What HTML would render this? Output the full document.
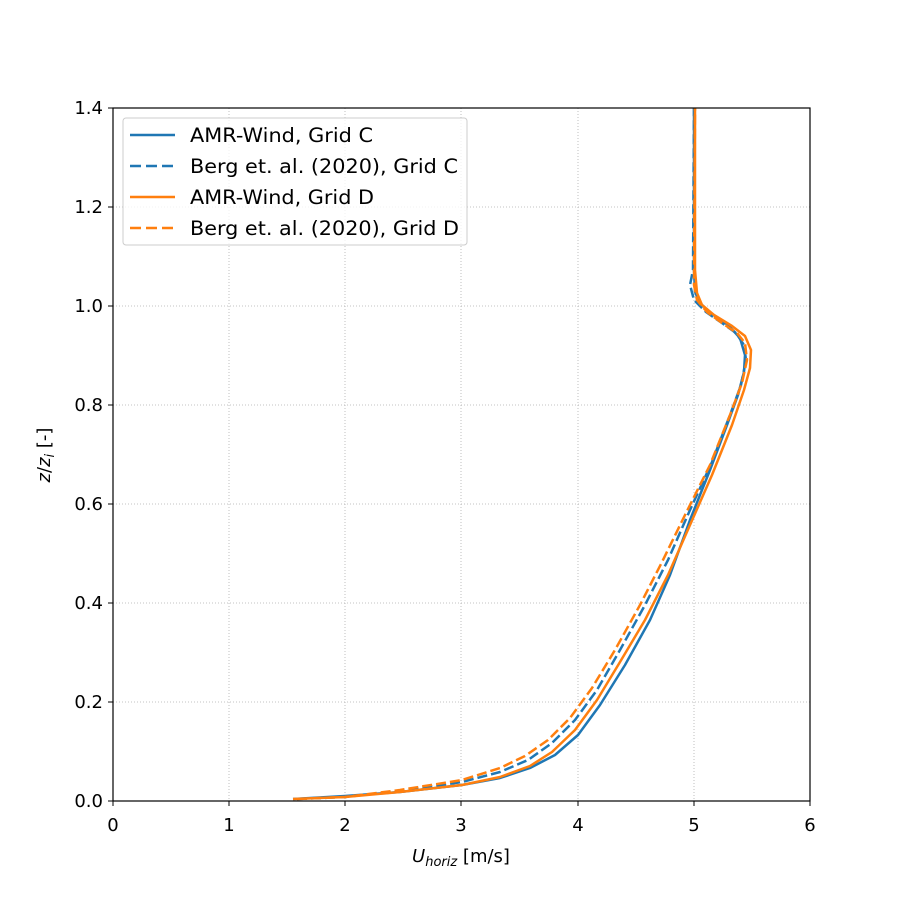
<!DOCTYPE html>
<html><head><style>body{margin:0;background:#fff}svg{display:block;font-family:"DejaVu Sans","Liberation Sans",sans-serif}</style></head>
<body>
<svg width="900" height="900" xmlns="http://www.w3.org/2000/svg">
<rect width="900" height="900" fill="#fff"/>
<g stroke="#b0b0b0" stroke-width="0.8" stroke-dasharray="1,2">
<line x1="229" y1="108" x2="229" y2="801"/><line x1="345" y1="108" x2="345" y2="801"/><line x1="461" y1="108" x2="461" y2="801"/><line x1="578" y1="108" x2="578" y2="801"/><line x1="694" y1="108" x2="694" y2="801"/>
<line x1="113" y1="702" x2="810" y2="702"/><line x1="113" y1="603" x2="810" y2="603"/><line x1="113" y1="504" x2="810" y2="504"/><line x1="113" y1="405" x2="810" y2="405"/><line x1="113" y1="306" x2="810" y2="306"/><line x1="113" y1="207" x2="810" y2="207"/>
</g>
<g fill="none" stroke-width="2.5" stroke-linejoin="round">
<polyline stroke="#1f77b4" points="293,799 345,796 400,792 462,785 500,778 530,768 555,755 578,735 600,705 625,665 650,620 670,575 690,520 710,470 727,425 738,395 744,372 745,355 740,338 728,325 712,314 700,303 695,292 694,270 694,108"/>
<polyline stroke="#1f77b4" stroke-dasharray="10,4" points="297,799 345,797 400,791 462,782 500,772 528,760 552,743 575,720 597,690 620,650 645,605 668,560 690,510 712,462 730,415 741,385 746,360 744,345 736,333 722,323 706,312 694,300 690,285 693,270 694,108"/>
<polyline stroke="#ff7f0e" points="293,799 345,797 400,792 462,785 500,777 530,766 552,752 575,730 597,700 620,662 645,620 668,575 690,525 712,475 732,425 744,390 750,368 751,350 745,336 732,326 714,315 702,305 697,293 695,270 695,108"/>
<polyline stroke="#ff7f0e" stroke-dasharray="10,4" points="297,799 345,797 400,790 462,780 500,768 525,756 548,740 570,718 592,688 615,650 640,605 662,562 685,515 710,465 730,415 742,383 747,360 745,343 737,333 722,323 707,312 697,300 694,285 695,108"/>
</g>
<rect x="113" y="108" width="697" height="693" fill="none" stroke="#000" stroke-width="1.2"/>
<g stroke="#000" stroke-width="1">
<line x1="113" y1="801" x2="113" y2="806"/><line x1="229" y1="801" x2="229" y2="806"/><line x1="345" y1="801" x2="345" y2="806"/><line x1="461" y1="801" x2="461" y2="806"/><line x1="578" y1="801" x2="578" y2="806"/><line x1="694" y1="801" x2="694" y2="806"/><line x1="810" y1="801" x2="810" y2="806"/>
<line x1="108" y1="801" x2="113" y2="801"/><line x1="108" y1="702" x2="113" y2="702"/><line x1="108" y1="603" x2="113" y2="603"/><line x1="108" y1="504" x2="113" y2="504"/><line x1="108" y1="405" x2="113" y2="405"/><line x1="108" y1="306" x2="113" y2="306"/><line x1="108" y1="207" x2="113" y2="207"/><line x1="108" y1="108" x2="113" y2="108"/>
</g>
<g font-size="18" text-anchor="middle">
<text x="113" y="831">0</text><text x="229" y="831">1</text><text x="345" y="831">2</text><text x="461" y="831">3</text><text x="578" y="831">4</text><text x="694" y="831">5</text><text x="810" y="831">6</text>
</g>
<g font-size="18" text-anchor="end">
<text x="103" y="807">0.0</text><text x="103" y="708">0.2</text><text x="103" y="609">0.4</text><text x="103" y="510">0.6</text><text x="103" y="411">0.8</text><text x="103" y="312">1.0</text><text x="103" y="213">1.2</text><text x="103" y="114">1.4</text>
</g>
<text x="461" y="862" font-size="18" text-anchor="middle"><tspan font-style="italic">U</tspan><tspan font-style="italic" font-size="13" dy="4">horiz</tspan><tspan dy="-4"> [m/s]</tspan></text>
<text transform="translate(50,455) rotate(-90)" font-size="18" text-anchor="middle"><tspan font-style="italic">z</tspan>/<tspan font-style="italic">z</tspan><tspan font-style="italic" font-size="13" dy="4">i</tspan><tspan dy="-4"> [-]</tspan></text>
<rect x="123" y="118" width="344" height="127" rx="3" fill="#fff" fill-opacity="0.8" stroke="#ccc"/>
<g stroke-width="2.5">
<line x1="130" y1="135" x2="175" y2="135" stroke="#1f77b4"/>
<line x1="130" y1="166" x2="175" y2="166" stroke="#1f77b4" stroke-dasharray="11,5"/>
<line x1="130" y1="197" x2="175" y2="197" stroke="#ff7f0e"/>
<line x1="130" y1="228" x2="175" y2="228" stroke="#ff7f0e" stroke-dasharray="11,5"/>
</g>
<g font-size="19.5">
<text x="190" y="142" textLength="183" lengthAdjust="spacingAndGlyphs">AMR-Wind, Grid C</text>
<text x="190" y="173" textLength="268" lengthAdjust="spacingAndGlyphs">Berg et. al. (2020), Grid C</text>
<text x="190" y="204" textLength="184" lengthAdjust="spacingAndGlyphs">AMR-Wind, Grid D</text>
<text x="190" y="235" textLength="269" lengthAdjust="spacingAndGlyphs">Berg et. al. (2020), Grid D</text>
</g>
</svg>
</body></html>
